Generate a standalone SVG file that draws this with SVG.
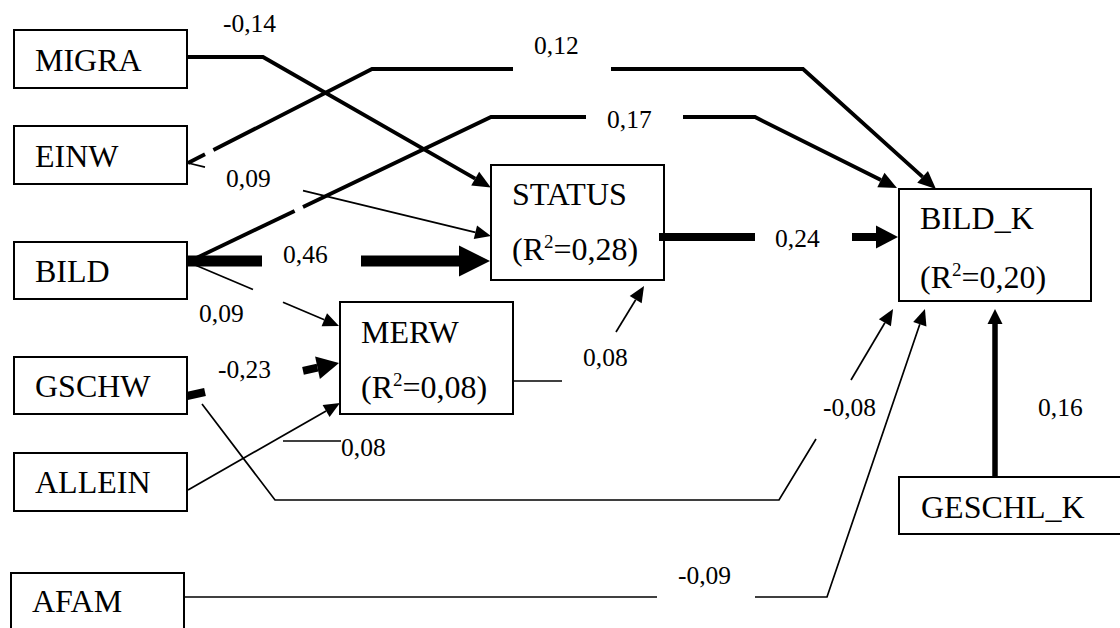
<svg xmlns="http://www.w3.org/2000/svg" width="1120" height="628" viewBox="0 0 1120 628">
<style>
.box{fill:#fff;stroke:#000;stroke-width:2}
.nt{font-family:'Liberation Serif','Times New Roman',serif;font-size:32px;fill:#000}
.lb{font-family:'Liberation Serif','Times New Roman',serif;font-size:25.5px;fill:#000}
.c{fill:none;stroke:#000;stroke-linejoin:miter}
.w1{stroke-width:1.7}
.w4{stroke-width:3.8}
.w5{stroke-width:5.5}
.w8{stroke-width:8}
.w11{stroke-width:11}
</style>
<defs>
<marker id="mS" markerUnits="userSpaceOnUse" markerWidth="16" markerHeight="14" refX="0" refY="7" orient="auto" overflow="visible"><path d="M0,0 L16,7 L0,14 Z" fill="#000"/></marker>
<marker id="mM" markerUnits="userSpaceOnUse" markerWidth="18" markerHeight="16" refX="0" refY="8" orient="auto" overflow="visible"><path d="M0,0 L18,8 L0,16 Z" fill="#000"/></marker>
<marker id="mT" markerUnits="userSpaceOnUse" markerWidth="22" markerHeight="23" refX="0" refY="11.5" orient="auto" overflow="visible"><path d="M0,0 L22,11.5 L0,23 Z" fill="#000"/></marker>
<marker id="mB" markerUnits="userSpaceOnUse" markerWidth="31" markerHeight="31" refX="0" refY="15.5" orient="auto" overflow="visible"><path d="M0,0 L31,15.5 L0,31 Z" fill="#000"/></marker>
<marker id="mG" markerUnits="userSpaceOnUse" markerWidth="15" markerHeight="15" refX="0" refY="7.5" orient="auto" overflow="visible"><path d="M0,0 L15,7.5 L0,15 Z" fill="#000"/></marker>
</defs>
<rect width="1120" height="628" fill="#fff"/>
<g id="nodes">
<g id="MIGRA"><rect class="box" x="14" y="30" width="173" height="58"/><text class="nt" x="35" y="71">MIGRA</text></g>
<g id="EINW"><rect class="box" x="14" y="126" width="173" height="58"/><text class="nt" x="35" y="167">EINW</text></g>
<g id="BILD"><rect class="box" x="14" y="242" width="173" height="57"/><text class="nt" x="35" y="282">BILD</text></g>
<g id="GSCHW"><rect class="box" x="14" y="357" width="173" height="57"/><text class="nt" x="35" y="397">GSCHW</text></g>
<g id="ALLEIN"><rect class="box" x="14" y="453" width="173" height="58"/><text class="nt" x="35" y="493">ALLEIN</text></g>
<g id="AFAM"><rect class="box" x="11" y="573" width="173" height="70"/><text class="nt" x="32" y="612">AFAM</text></g>
<g id="STATUS"><rect class="box" x="491" y="165" width="173" height="115"/><text class="nt" x="512" y="205">STATUS</text><text class="nt" x="512" y="260">(R<tspan font-size="19" dy="-12">2</tspan><tspan dy="12">=0,28)</tspan></text></g>
<g id="MERW"><rect class="box" x="340" y="302" width="173" height="112"/><text class="nt" x="361" y="343">MERW</text><text class="nt" x="361" y="398">(R<tspan font-size="19" dy="-12">2</tspan><tspan dy="12">=0,08)</tspan></text></g>
<g id="BILD_K"><rect class="box" x="899" y="189" width="192" height="112"/><text class="nt" x="920" y="229">BILD_K</text><text class="nt" x="920" y="288">(R<tspan font-size="19" dy="-12">2</tspan><tspan dy="12">=0,20)</tspan></text></g>
<g id="GESCHL_K"><rect class="box" x="899" y="477" width="240" height="57"/><text class="nt" x="921" y="518">GESCHL_K</text></g>
</g>
<g id="connectors">
<path class="c w4" d="M187,57 L263,57 L475.2,178.6" marker-end="url(#mM)"/>
<path class="c w4" d="M188,163 L205,154.3"/>
<path class="c w4" d="M213.4,150 L372,69 L513,69"/>
<path class="c w4" d="M611,69 L803,69 L922.6,176.9" marker-end="url(#mM)"/>
<path class="c w1" d="M188,163 L205,167.1"/>
<path class="c w1" d="M303,190.7 L475.4,232.3" marker-end="url(#mS)"/>
<path class="c w4" d="M188,262 L294.6,211"/>
<path class="c w4" d="M303,207 L491,117 L586,117"/>
<path class="c w4" d="M683,117 L755,117 L880.9,180" marker-end="url(#mM)"/>
<path class="c w11" d="M188,261 L262,261"/>
<path class="c w11" d="M361,261 L459,261" marker-end="url(#mB)"/>
<path class="c w1" d="M188,262 L253,289.5"/>
<path class="c w1" d="M283,302.3 L324.3,319.8" marker-end="url(#mS)"/>
<path class="c w8" d="M187,396 L205,392"/>
<path class="c w8" d="M303,370.8 L317.5,367.7" marker-end="url(#mT)"/>
<path class="c w1" d="M202,404 L275,500 L779,500 L816,439"/>
<path class="c w1" d="M851,380 L884.9,322.8" marker-end="url(#mS)"/>
<path class="c w1" d="M188,490 L326.1,411" marker-end="url(#mS)"/>
<path class="c w1" d="M283,441 L341,441"/>
<path class="c w1" d="M513,381 L562,381"/>
<path class="c w1" d="M616,332 L635.7,299.7" marker-end="url(#mS)"/>
<path class="c w8" d="M659,237 L755,237"/>
<path class="c w8" d="M852,237 L876,237" marker-end="url(#mT)"/>
<path class="c w1" d="M184,597 L657,597"/>
<path class="c w1" d="M755,597 L827,597 L919.8,324.2" marker-end="url(#mS)"/>
<path class="c w5" d="M995,477 L995,324" marker-end="url(#mG)"/>
</g>
<g id="labels">
<text class="lb" x="223" y="32">-0,14</text>
<text class="lb" x="534" y="54">0,12</text>
<text class="lb" x="607" y="128">0,17</text>
<text class="lb" x="226" y="187">0,09</text>
<text class="lb" x="283" y="263">0,46</text>
<text class="lb" x="199" y="322">0,09</text>
<text class="lb" x="218" y="378">-0,23</text>
<text class="lb" x="341" y="456">0,08</text>
<text class="lb" x="583" y="366">0,08</text>
<text class="lb" x="775" y="247">0,24</text>
<text class="lb" x="823" y="416">-0,08</text>
<text class="lb" x="1038" y="416">0,16</text>
<text class="lb" x="678" y="584">-0,09</text>
</g>
</svg>
